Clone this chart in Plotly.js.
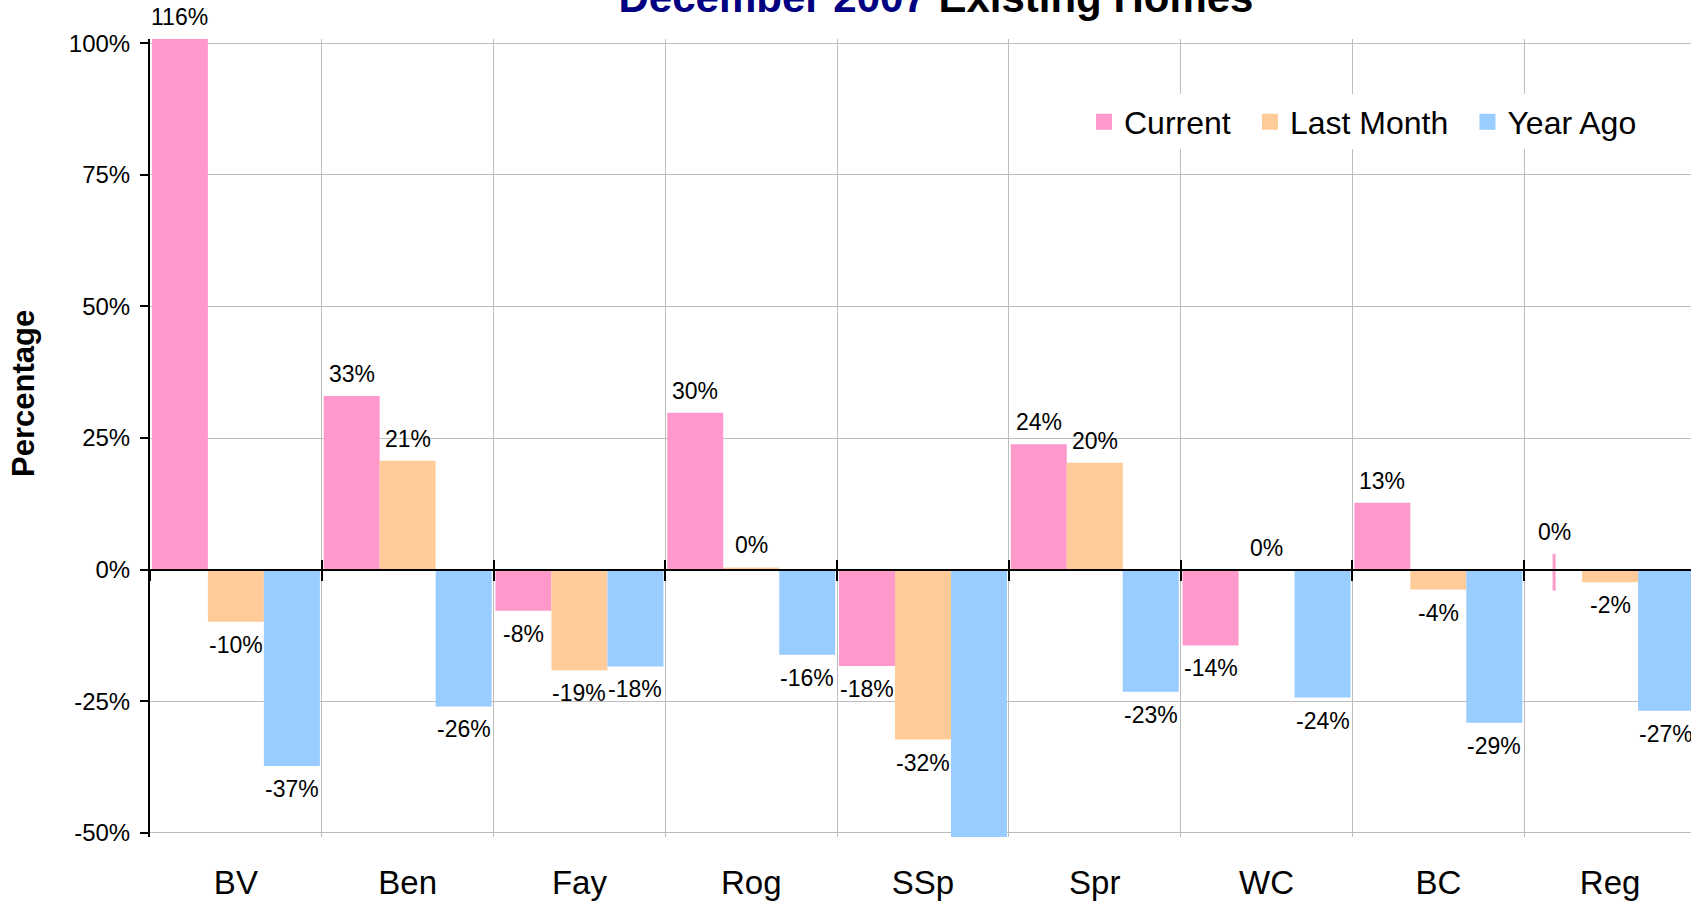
<!DOCTYPE html>
<html><head><meta charset="utf-8">
<script src="https://cdn.plot.ly/plotly-3.0.1.min.js"></script>
<style>
html,body{margin:0;padding:0;overflow:hidden;background:#fff;width:1691px;height:902px}
#chart{position:absolute;left:0;top:-40px;width:1720px;height:942px}
</style>
</head><body><div id="chart"></div>
<script>
// ---- data ----
const categories = ['BV','Ben','Fay','Rog','SSp','Spr','WC','BC','Reg'];
const seriesNames = ['Current','Last Month','Year Ago'];
const currentVals   = [1.16, 0.33, -0.078, 0.298, -0.183, 0.238, -0.144, 0.127, 0];
const lastMonthVals = [-0.099, 0.207, -0.191, 0.004, -0.323, 0.203, 0, -0.038, -0.024];
const yearAgoVals   = [-0.373, -0.26, -0.184, -0.162, -0.51, -0.232, -0.243, -0.291, -0.268];
// small pink stroke drawn on the Reg "Current" bar
const currentStrokeUp   = [0,0,0,0,0,0,0,0,0.03];
const currentStrokeDown = [0,0,0,0,0,0,0,0,0.04];
const yTickVals = [-0.5,-0.25,0,0.25,0.5,0.75,1];
const yTickText = ['-50%','-25%','0%','25%','50%','75%','100%'];
const colors = ['#FF99CC','#FFCC99','#99CCFF'];

// ---- layout constants ----
const FONT = '"Liberation Sans", Arial, sans-serif';
const W = 1720, H = 942;
const M = {l:150, r:24, t:79.1, b:64.5};
const yRange = [-0.508, 1.008];
const bargap = 0.022;
const plotW = W - M.l - M.r;
const catPx = plotW / categories.length;
const barPx = catPx * (1 - bargap) / 3;
const zeroPos = (0 - yRange[0]) / (yRange[1] - yRange[0]);
const NB = '\u00A0\u2006';

const allVals = [currentVals, lastMonthVals, yearAgoVals];

const traces = allVals.map((vals, i) => {
  const t = {
    type:'bar', name: seriesNames[i], x: categories, y: vals,
    marker:{color: colors[i], line:{width:0}},
    showlegend:false, hoverinfo:'skip', cliponaxis:true
  };
  if (i === 0) {
    t.error_y = {type:'data', symmetric:false, array: currentStrokeUp,
      arrayminus: currentStrokeDown, color: colors[0], thickness:3, width:0};
  }
  return t;
});
// legend entries
seriesNames.forEach((n,i) => traces.push({
  type:'scatter', mode:'markers', name: n + (i < seriesNames.length-1 ? NB : ''),
  x:[null], y:[null],
  marker:{symbol:'square', size:16, color:colors[i]}, hoverinfo:'skip'
}));
// helper traces for zero-line crossing ticks
['x2','x3'].forEach(ax => traces.push({
  type:'scatter', mode:'markers', x: categories, y: categories.map(()=>null),
  xaxis: ax, yaxis:'y', showlegend:false, hoverinfo:'skip'
}));

// data labels
const annotations = [];
allVals.forEach((vals, i) => {
  vals.forEach((v, j) => {
    if (v < yRange[0]) return;
    const pos = v >= 0;
    const top = (i === 0) ? v + currentStrokeUp[j] : v;
    annotations.push({
      x: categories[j], y: Math.min(pos ? top : v, yRange[1]), xref:'x', yref:'y',
      text: Math.round(v*100) + '%', showarrow:false,
      xshift: (i-1)*barPx, yanchor: pos ? 'bottom' : 'top', yshift: pos ? 7 : -8,
      font:{family:FONT, size:23, color:'#000'}
    });
  });
});
annotations.push({
  text:'Percentage', xref:'paper', yref:'paper',
  x: (23.5 - M.l)/plotW, y: (H - M.b - (393.7+40)) / (H - M.t - M.b),
  textangle:-90, showarrow:false, xanchor:'center', yanchor:'middle',
  font:{family:FONT, size:31, color:'#000', weight:700}
});

const axCommonX = {
  type:'category', categoryorder:'array', categoryarray:categories,
  range:[-0.5, categories.length-0.5], fixedrange:true
};

const layout = {
  width:W, height:H, margin:M,
  paper_bgcolor:'#fff', plot_bgcolor:'#fff',
  font:{family:FONT, color:'#000'},
  barmode:'group', bargap:bargap, bargroupgap:0,
  title:{
    text:'<span style="color:#000080">December 2007</span> Existing Homes',
    font:{family:FONT, size:42, color:'#000', weight:700},
    xref:'container', yref:'container', x:936/W, xanchor:'center',
    y: 1 - 37.3/H, yanchor:'middle'
  },
  xaxis: Object.assign({}, axCommonX, {
    showgrid:true, gridcolor:'#BDBDBD', gridwidth:1, tickson:'boundaries',
    ticks:'', showline:false, zeroline:false,
    tickfont:{family:FONT, size:33, color:'#000'}, ticklabelstandoff:23
  }),
  xaxis2: Object.assign({}, axCommonX, {
    overlaying:'x', anchor:'free', position: zeroPos, side:'bottom',
    showgrid:false, tickson:'boundaries', ticks:'outside', ticklen:10, tickwidth:2,
    tickcolor:'#000', showticklabels:false, showline:true, linecolor:'#000', linewidth:2,
    zeroline:false
  }),
  xaxis3: Object.assign({}, axCommonX, {
    overlaying:'x', anchor:'free', position: zeroPos, side:'bottom',
    showgrid:false, tickson:'boundaries', ticks:'inside', ticklen:10, tickwidth:2,
    tickcolor:'#000', showticklabels:false, showline:false, zeroline:false
  }),
  yaxis:{
    range:yRange, fixedrange:true, tickvals:yTickVals, ticktext:yTickText,
    ticks:'outside', ticklen:8, tickwidth:2, tickcolor:'#000',
    showline:true, linecolor:'#000', linewidth:2,
    showgrid:true, gridcolor:'#BDBDBD', gridwidth:1, zeroline:false,
    tickfont:{family:FONT, size:24, color:'#000'}, ticklabelstandoff:5
  },
  legend:{
    orientation:'h', x:(1084 - M.l)/plotW, xanchor:'left',
    y:(H - M.b - (122+40)) / (H - M.t - M.b), yanchor:'middle',
    font:{family:FONT, size:32, color:'#000'}, bgcolor:'#fff', borderwidth:0,
    itemwidth:30, traceorder:'normal'
  },
  annotations: annotations,
  showlegend:true
};

Plotly.newPlot('chart', traces, layout, {staticPlot:true, displayModeBar:false});
</script>
</body></html>
